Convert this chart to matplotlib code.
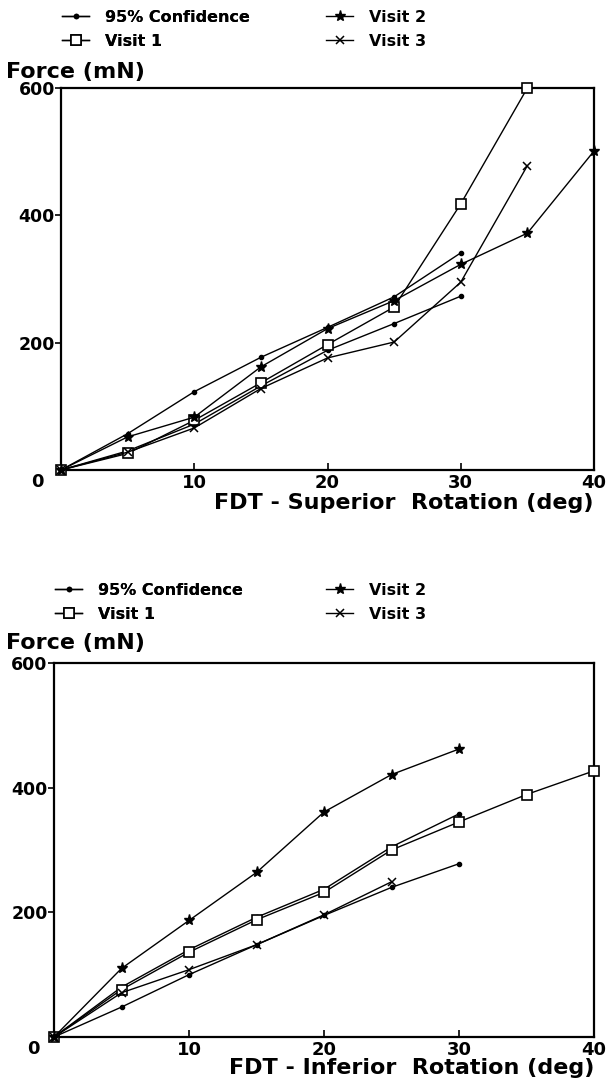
import matplotlib
matplotlib.use("Agg")
import matplotlib.pyplot as plt
import matplotlib.transforms as mtransforms
from matplotlib.lines import Line2D

plt.rcParams['font.family'] = ['DejaVu Sans']
plt.rcParams['font.weight'] = 'bold'

# ---------------- data ----------------
deg = [0, 5, 10, 15, 20, 25, 30, 35, 40]

# Superior rotation
sup_conf_upper = [0, 57, 123, 177, 224, 272, 341]
sup_conf_lower = [0, 30, 72, 132, 188, 230, 273]
sup_visit1 = [0, 26, 78, 137, 197, 256, 418, 600]
sup_visit2 = [0, 52, 83, 162, 222, 266, 323, 372, 501]
sup_visit3 = [0, 28, 66, 128, 176, 201, 295, 478]

# Inferior rotation
inf_conf_upper = [0, 80, 140, 192, 237, 305, 358]
inf_conf_lower = [0, 48, 100, 148, 195, 240, 278]
inf_visit1 = [0, 76, 136, 188, 232, 300, 345, 389, 427]
inf_visit2 = [0, 110, 187, 264, 361, 421, 462]
inf_visit3 = [0, 71, 108, 148, 196, 249]

x_ticks = [10, 20, 30, 40]
y_ticks = [200, 400, 600]
legend_labels = ['95% Confidence', 'Visit 1', 'Visit 2', 'Visit 3']
y_title = 'Force (mN)'
x_title_sup = 'FDT - Superior  Rotation (deg)'
x_title_inf = 'FDT - Inferior  Rotation (deg)'

W, H = 606, 1081
fig = plt.figure(figsize=(W / 100, H / 100), dpi=100)
fig.patch.set_facecolor('white')

styles = {
    'conf': dict(marker='o', ms=3, mfc='black', mec='black', color='black', lw=1.0),
    'v1': dict(marker='s', ms=7, mfc='white', mec='black', mew=1.2, color='black', lw=1.0),
    'v2': dict(marker='*', ms=8, mfc='black', mec='black', color='black', lw=1.0),
    'v3': dict(marker='x', ms=6, mew=1.1, color='black', lw=1.0),
}


def px_box(left, right, top, bottom):
    return [left / W, 1 - bottom / H, (right - left) / W, (bottom - top) / H]


def make_panel(box, cu, cl, v1, v2, v3, xtitle, leg_top, title_y, xtitle_y, zero_off):
    ax = fig.add_axes(px_box(*box))
    ax.plot(deg[:len(cu)], cu, clip_on=False, zorder=3, **styles['conf'])
    ax.plot(deg[:len(cl)], cl, clip_on=False, zorder=3, **styles['conf'])
    ax.plot(deg[:len(v1)], v1, clip_on=False, zorder=4, **styles['v1'])
    ax.plot(deg[:len(v2)], v2, clip_on=False, zorder=4, **styles['v2'])
    ax.plot(deg[:len(v3)], v3, clip_on=False, zorder=4, **styles['v3'])
    ax.set_xlim(0, 40)
    ax.set_ylim(0, 600)
    ax.set_xticks(x_ticks)
    ax.set_yticks(y_ticks)
    ax.set_xticklabels([str(t) for t in x_ticks], fontsize=13, fontweight='bold')
    ax.set_yticklabels([str(t) for t in y_ticks], fontsize=12.5, fontweight='bold')
    ax.tick_params(axis='x', direction='in', length=5, width=1.2, pad=3)
    ax.tick_params(axis='y', direction='out', length=4, width=1.2, pad=0.5)
    for s in ax.spines.values():
        s.set_linewidth(1.6)
    # origin label
    off = mtransforms.offset_copy(ax.transData, fig=fig, x=zero_off[0], y=zero_off[1], units='dots')
    ax.text(0, 0, '0', transform=off, ha='center', va='center', fontsize=13, fontweight='bold')
    # y title
    fig.text(6 / W, 1 - title_y / H, y_title, ha='left', va='center', fontsize=16, fontweight='bold')
    # x title
    fig.text(box[1] / W, 1 - xtitle_y / H, xtitle, ha='right', va='center', fontsize=16, fontweight='bold')

    handles = [Line2D([], [], **styles['conf']), Line2D([], [], **styles['v1']),
               Line2D([], [], **styles['v2']), Line2D([], [], **styles['v3'])]
    common = dict(frameon=False, handlelength=1.7, handletextpad=1.0,
                  labelspacing=0.55, borderpad=0, borderaxespad=0, loc='upper left',
                  bbox_transform=fig.transFigure, prop={'weight': 'bold', 'size': 11.5})
    l1 = fig.legend(handles[:2], legend_labels[:2], bbox_to_anchor=(box[0] / W + 1 / W, 1 - leg_top / H), **common)
    fig.add_artist(l1)
    fig.legend(handles[2:], legend_labels[2:], bbox_to_anchor=(326 / W, 1 - leg_top / H), **common)
    return ax


make_panel((61, 594, 88, 470), sup_conf_upper, sup_conf_lower, sup_visit1, sup_visit2, sup_visit3,
           x_title_sup, leg_top=10, title_y=72, xtitle_y=503, zero_off=(-24, -12))
make_panel((54, 594, 663, 1037), inf_conf_upper, inf_conf_lower, inf_visit1, inf_visit2, inf_visit3,
           x_title_inf, leg_top=583, title_y=643, xtitle_y=1068, zero_off=(-21, -12))

fig.savefig('out.png', dpi=100, facecolor='white')
